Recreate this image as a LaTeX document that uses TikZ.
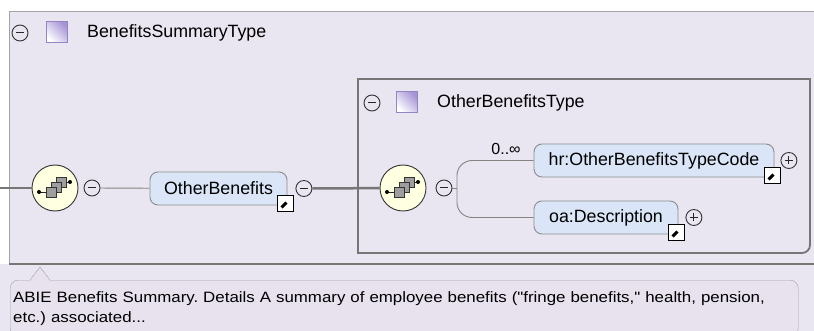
\documentclass[tikz,border=0pt]{standalone}
\usepackage{fontspec}
\setmainfont{Liberation Sans}
\newfontfamily\tipfont[FakeStretch=1.125]{Liberation Sans}
\usetikzlibrary{positioning}

\definecolor{panelbg}{HTML}{E9E5F1}
\definecolor{panelline}{HTML}{A3A3A3}
\definecolor{elemfill}{HTML}{DAE6F7}
\definecolor{elemline}{HTML}{8C8C8C}
\definecolor{seqfill}{HTML}{FFFFE2}
\definecolor{wirecol}{HTML}{767676}
\definecolor{typepurple}{HTML}{A593D6}
\definecolor{tipbg}{HTML}{E7E2EE}

\begin{document}
\frenchspacing
\begin{tikzpicture}[x=1pt, y=-1pt, every node/.style={font=\fontsize{17.8}{20}\selectfont}]
		\tikzstyle{element}=[draw=elemline, fill=elemfill, rounded corners=8pt, minimum height=33pt, inner sep=0pt, line width=0.9pt]
		\tikzstyle{toggle}=[draw=black!80, circle, minimum size=16pt, inner sep=0pt, line width=0.9pt, path picture={\draw[black!85, line width=1pt] ([xshift=4pt]path picture bounding box.west) -- ([xshift=-4pt]path picture bounding box.east);}]
		\tikzstyle{expand}=[toggle, path picture={\draw[black!85, line width=1pt] ([xshift=4pt]path picture bounding box.west) -- ([xshift=-4pt]path picture bounding box.east) ([yshift=-4pt]path picture bounding box.north) -- ([yshift=4pt]path picture bounding box.south);}]
		\tikzstyle{typeicon}=[draw=typepurple!90!black, minimum size=21pt, inner sep=0pt, left color=white, right color=typepurple, shading angle=135]
		\tikzstyle{link}=[draw=black, fill=white, minimum size=16pt, inner sep=0pt, line width=1.3pt, path picture={
				\draw[line width=3pt] ([shift={(4pt,4pt)}]path picture bounding box.south west) -- ([shift={(-6pt,-6pt)}]path picture bounding box.north east);
				\fill ([shift={(-2.5pt,-2.5pt)}]path picture bounding box.north east) -- ++(-9pt,0pt) -- ++(9pt,-9pt) -- cycle;}]
		\tikzstyle{seq}=[draw=black!80, fill=seqfill, circle, minimum size=46pt, inner sep=0pt, line width=0.9pt, path picture={
				\begin{scope}[shift={(path picture bounding box.center)}]
					\draw[black!85, line width=0.9pt] (-16,4) -- (-8,4) (8,-6) -- (15,-6);
					\fill[black] (-16,4) circle (2pt) (15,-6) circle (2pt);
					\filldraw[fill=black!38, draw=black!80] (1,-11) rectangle (11,-1);
					\filldraw[fill=black!38, draw=black!80] (-4,-6) rectangle (6,4);
					\filldraw[fill=black!38, draw=black!80] (-9,-1) rectangle (1,9);
				\end{scope}}]
		\tikzstyle{mainline}=[wirecol, line width=2.5pt]
		\tikzstyle{subline}=[wirecol!90, line width=0.9pt]

		\clip (0,0) rectangle (814,331);
		\fill[white] (0,0) rectangle (814,331);

    % Outer type panel
		\fill[panelbg] (9,11) rectangle (814,264);
		\fill[panelbg] (0,264) rectangle (814,331);
		\draw[panelline] (9,264) -- (9,11) -- (814,11);
		\draw[wirecol, line width=1.6pt] (9,264) -- (814,264);
		\shade[left color=panelbg, middle color=black!55, right color=panelbg] (12,61) rectangle (355,63.5);

		\node[toggle](typeMinus) at (20,33){};
		\node[typeicon](typeIcon) at (57,32){};
		\node[anchor=west, inner sep=0pt](typeName) at (87,33){BenefitsSummaryType};

    % Outer sequence
		\coordinate (start) at (0,188);
		\node[seq](seqOuter) at (55,188){};
		\node[toggle](seqOuterMinus) at (92,188){};
		\node[element, minimum width=137pt](otherBenefits) at (218.5,188.5){OtherBenefits};
		\node[link](otherBenefitsLink) at ([shift={(-2,-2)}]otherBenefits.south east){};
		\node[toggle, right=8pt of otherBenefits](otherBenefitsMinus){};

    % Inner type panel
		\draw[wirecol, line width=1.8pt] (358,79) -- (810,79) -- (810,245) arc[start angle=0, end angle=90, radius=8] -- (358,253) -- cycle;
		\shade[left color=panelbg, middle color=black!55, right color=panelbg] (365,123) rectangle (700,125.5);

		\node[toggle](innerTypeMinus) at (372,103){};
		\node[typeicon](innerTypeIcon) at (407,102){};
		\node[anchor=west, inner sep=0pt](innerTypeName) at (437,103){OtherBenefitsType};

    % Inner sequence
		\node[seq](seqInner) at (403,188){};
		\node[toggle](seqInnerMinus) at (444,188){};
		\coordinate (fork) at (457,188);

		\node[element, minimum width=240pt](typeCode) at (654,160.5){hr:OtherBenefitsTypeCode};
		\node[link](typeCodeLink) at ([shift={(-2,-2)}]typeCode.south east){};
		\node[expand, right=6pt of typeCode](typeCodePlus){};
		\node[font=\fontsize{16}{18}\selectfont](typeCodeCard) at (506,149){0..∞};

		\node[element, minimum width=144pt](description) at (606,217.5){oa:Description};
		\node[link](descriptionLink) at ([shift={(-2,-2)}]description.south east){};
		\node[expand, right=7pt of description](descriptionPlus){};

    % Connections
		\draw[mainline] (start) -- (seqOuter);
		\draw[subline] (seqOuterMinus) -- (otherBenefits);
		\draw[mainline] (otherBenefitsMinus) -- (seqInner);
		\draw[subline] (seqInnerMinus) -- (fork);
		\draw[subline, rounded corners=15pt] (typeCode.west) -| (fork) |- (description.west);

    % Annotation
		\node[draw=panelline, fill=tipbg, rounded corners=8pt, anchor=north west, inner xsep=3pt, inner ysep=0pt, text width=782pt, minimum height=56pt, align=left, font=\tipfont\fontsize{15}{20}\selectfont](tip) at (10,280){ABIE Benefits Summary. Details A summary of employee benefits ("fringe benefits," health, pension,\\etc.) associated...};
		\fill[tipbg] (30,281.2) -- (40,267.5) -- (50,281.2) -- cycle;
		\draw[panelline] (30,280) -- (40,267) -- (50,280);

  \end{tikzpicture}
\end{document}
